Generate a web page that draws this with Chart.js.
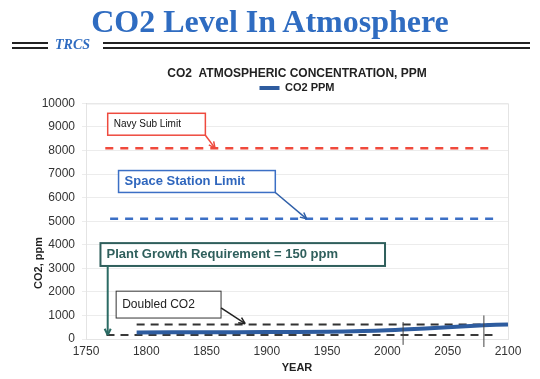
<!DOCTYPE html>
<html><head><meta charset="utf-8">
<script src="https://cdn.jsdelivr.net/npm/chart.js@4.4.1/dist/chart.umd.min.js"></script>
<style>
html,body{margin:0;padding:0;background:#fff;width:540px;height:379px;overflow:hidden;}
#wrap{position:absolute;left:0;top:0;width:540px;height:379px;}
#hdr{position:absolute;left:0;top:0;width:540px;height:60px;pointer-events:none;}
#ttl{position:absolute;left:0;top:3px;width:540px;text-align:center;font:bold 32px "Liberation Serif","DejaVu Serif",serif;color:#2f6cc1;}
.ln{position:absolute;height:2px;background:#222;}
#trcs{position:absolute;left:55px;top:37px;font:italic bold 14px "Liberation Serif",serif;color:#2f6cc1;}
</style></head>
<body>
<div id="wrap"><canvas id="c" width="540" height="379"></canvas></div>
<div id="hdr">
<div id="ttl">CO2 Level In Atmosphere</div>
<div class="ln" style="left:12px;width:36px;top:42px"></div>
<div class="ln" style="left:12px;width:36px;top:47px"></div>
<div id="trcs">TRCS</div>
<div class="ln" style="left:103px;width:427px;top:42px"></div>
<div class="ln" style="left:103px;width:427px;top:47px"></div>
</div>
<script>
// ---- data ----
const years = [1792, 1850, 1900, 1950, 1980, 2000, 2013, 2050, 2080, 2100];
const co2ppm = [280, 285, 295, 310, 338, 370, 400, 500, 580, 620];
const yTicks = [0,1000,2000,3000,4000,5000,6000,7000,8000,9000,10000];
const xTicks = [1750,1800,1850,1900,1950,2000,2050,2100];
const navyLimit = 8100, navySpan = [1766, 2087];
const spaceLimit = 5100, spaceSpan = [1770, 2091];
const doubledCO2 = 620, doubledSpan = [1792, 2090];
const plantMin = 170, plantSpan = [1767, 2090];
const markYears = [2013, 2080];
const markLow = [-250, -340], markHigh = [720, 1000];

const pts = years.map((y,i)=>({x:y,y:co2ppm[i]}));
const hline = (v,s)=>[{x:s[0],y:v},{x:s[1],y:v}];

const annos = [
  {text:'Navy Sub Limit', x1:1768,y1:9580,x2:1849,y2:8650, color:'#ee4a3e', tcolor:'#111', font:'10px "Liberation Sans",Arial', lw:1.5,
   arrowFrom:[1849,8650], arrowTo:[1857,navyLimit], acolor:'#ee4a3e'},
  {text:'Space Station Limit', x1:1777,y1:7150,x2:1907,y2:6220, color:'#3b6fc5', tcolor:'#2f66bd', font:'bold 13px "Liberation Sans",Arial', lw:1.5,
   arrowFrom:[1907,6220], arrowTo:[1933,spaceLimit], acolor:'#2f5fa8'},
  {text:'Plant Growth Requirement = 150 ppm', x1:1762,y1:4070,x2:1998,y2:3100, color:'#2f5f5c', tcolor:'#2f5f5c', font:'bold 13px "Liberation Sans",Arial', lw:2,
   arrowFrom:[1768,3100], arrowTo:[1768,plantMin], acolor:'#2b6b64'},
  {text:'Doubled CO2', x1:1775,y1:2030,x2:1862,y2:890, color:'#333', tcolor:'#222', font:'12px "Liberation Sans",Arial', lw:1,
   arrowFrom:[1862,1320], arrowTo:[1882,doubledCO2+30], acolor:'#222'}
];

function arrow(ctx,x1,y1,x2,y2,color,w){
  ctx.save();ctx.strokeStyle=color;ctx.fillStyle=color;ctx.lineWidth=w;
  ctx.beginPath();ctx.moveTo(x1,y1);ctx.lineTo(x2,y2);ctx.stroke();
  const a=Math.atan2(y2-y1,x2-x1), L=7;
  ctx.beginPath();ctx.moveTo(x2,y2);
  ctx.lineTo(x2-L*Math.cos(a-0.45),y2-L*Math.sin(a-0.45));
  ctx.moveTo(x2,y2);
  ctx.lineTo(x2-L*Math.cos(a+0.45),y2-L*Math.sin(a+0.45));
  ctx.stroke();ctx.restore();
}

const annoPlugin = {
  id:'annos',
  afterDatasetsDraw(chart){
    const ctx=chart.ctx, xs=chart.scales.x, ys=chart.scales.y;
    annos.forEach(a=>{
      const l=xs.getPixelForValue(a.x1), t=ys.getPixelForValue(a.y1), r=xs.getPixelForValue(a.x2), b=ys.getPixelForValue(a.y2);
      ctx.save();
      ctx.fillStyle='#fff';ctx.fillRect(l,t,r-l,b-t);
      ctx.strokeStyle=a.color;ctx.lineWidth=a.lw;ctx.strokeRect(l,t,r-l,b-t);
      ctx.fillStyle=a.tcolor;ctx.font=a.font;ctx.textBaseline='middle';ctx.textAlign='left';
      ctx.fillText(a.text,l+6,(t+b)/2);
      ctx.restore();
      arrow(ctx,xs.getPixelForValue(a.arrowFrom[0]),ys.getPixelForValue(a.arrowFrom[1]),
            xs.getPixelForValue(a.arrowTo[0]),ys.getPixelForValue(a.arrowTo[1]),a.acolor,a.text.startsWith('Plant')?2:1.5);
    });
    // y axis title
    ctx.save();
    ctx.translate(39,263);ctx.rotate(-Math.PI/2);
    ctx.font='bold 11px "Liberation Sans",Arial';ctx.fillStyle='#222';ctx.textAlign='center';ctx.textBaseline='middle';
    ctx.fillText('CO2, ppm',0,0);ctx.restore();
  },
  beforeDatasetsDraw(chart){
    const ctx=chart.ctx,a=chart.chartArea;
    ctx.save();ctx.strokeStyle='#e4e4e4';ctx.lineWidth=1;
    ctx.strokeRect(a.left+0.5,a.top+0.5,a.right-a.left,a.bottom-a.top);ctx.restore();
  }
};

const dashed = (label,data,color,w,dash)=>({label,data,borderColor:color,borderWidth:w,borderDash:dash,pointRadius:0,fill:false,clip:false,showLine:true,order:2});

new Chart(document.getElementById('c'),{
  type:'scatter',
  data:{datasets:[
    {label:'CO2 PPM',data:pts,borderColor:'#2e5c9f',backgroundColor:'#2e5c9f',borderWidth:4,pointRadius:0,showLine:true,tension:0.3,order:1},
    dashed('navy',hline(navyLimit,navySpan),'#f04a3c',2.5,[8,7]),
    dashed('space',hline(spaceLimit,spaceSpan),'#3b6fc5',2.5,[8,7]),
    dashed('doubled',hline(doubledCO2,doubledSpan),'#333',2,[8,6]),
    dashed('plant',hline(plantMin,plantSpan),'#3a3a3a',2,[8,6]),
    ...markYears.map((m,i)=>({label:'mark'+i,data:[{x:m,y:markLow[i]},{x:m,y:markHigh[i]}],borderColor:'#444',borderWidth:1,pointRadius:0,showLine:true,clip:false,order:0}))
  ]},
  options:{
    animation:false,responsive:false,
    layout:{padding:{top:66,right:32,left:0,bottom:0}},
    plugins:{
      title:{display:true,fullSize:false,text:'CO2  ATMOSPHERIC CONCENTRATION, PPM',color:'#222',font:{family:'"Liberation Sans",Arial',size:12,weight:'bold'},padding:{top:0,bottom:2}},
      legend:{display:true,fullSize:false,labels:{filter:(it)=>it.text==='CO2 PPM',usePointStyle:true,pointStyle:'line',pointStyleWidth:20,boxWidth:20,color:'#222',font:{family:'"Liberation Sans",Arial',size:11,weight:'bold'},padding:0}},
      tooltip:{enabled:false}
    },
    scales:{
      x:{type:'linear',min:1750,max:2100,
        afterBuildTicks:(s)=>{s.ticks=xTicks.map(v=>({value:v}));},
        afterFit:(s)=>{s.height=40;},
        grid:{display:false,drawTicks:false,tickLength:0},border:{color:'#cfcfcf'},
        ticks:{color:'#333',font:{family:'"Liberation Sans",Arial',size:12},padding:5,maxRotation:0,callback:(v)=>String(v)},
        title:{display:true,text:'YEAR',color:'#222',font:{family:'"Liberation Sans",Arial',size:11,weight:'bold'},padding:{top:1}}
      },
      y:{type:'linear',min:0,max:10000,
        afterBuildTicks:(s)=>{s.ticks=yTicks.map(v=>({value:v}));},
        afterFit:(s)=>{s.width=86;},
        grid:{color:'#ececec',tickLength:4},border:{color:'#cfcfcf'},
        ticks:{color:'#333',font:{family:'"Liberation Sans",Arial',size:12},padding:7,callback:(v)=>String(v)}
      }
    }
  },
  plugins:[annoPlugin]
});
</script>
</body></html>
